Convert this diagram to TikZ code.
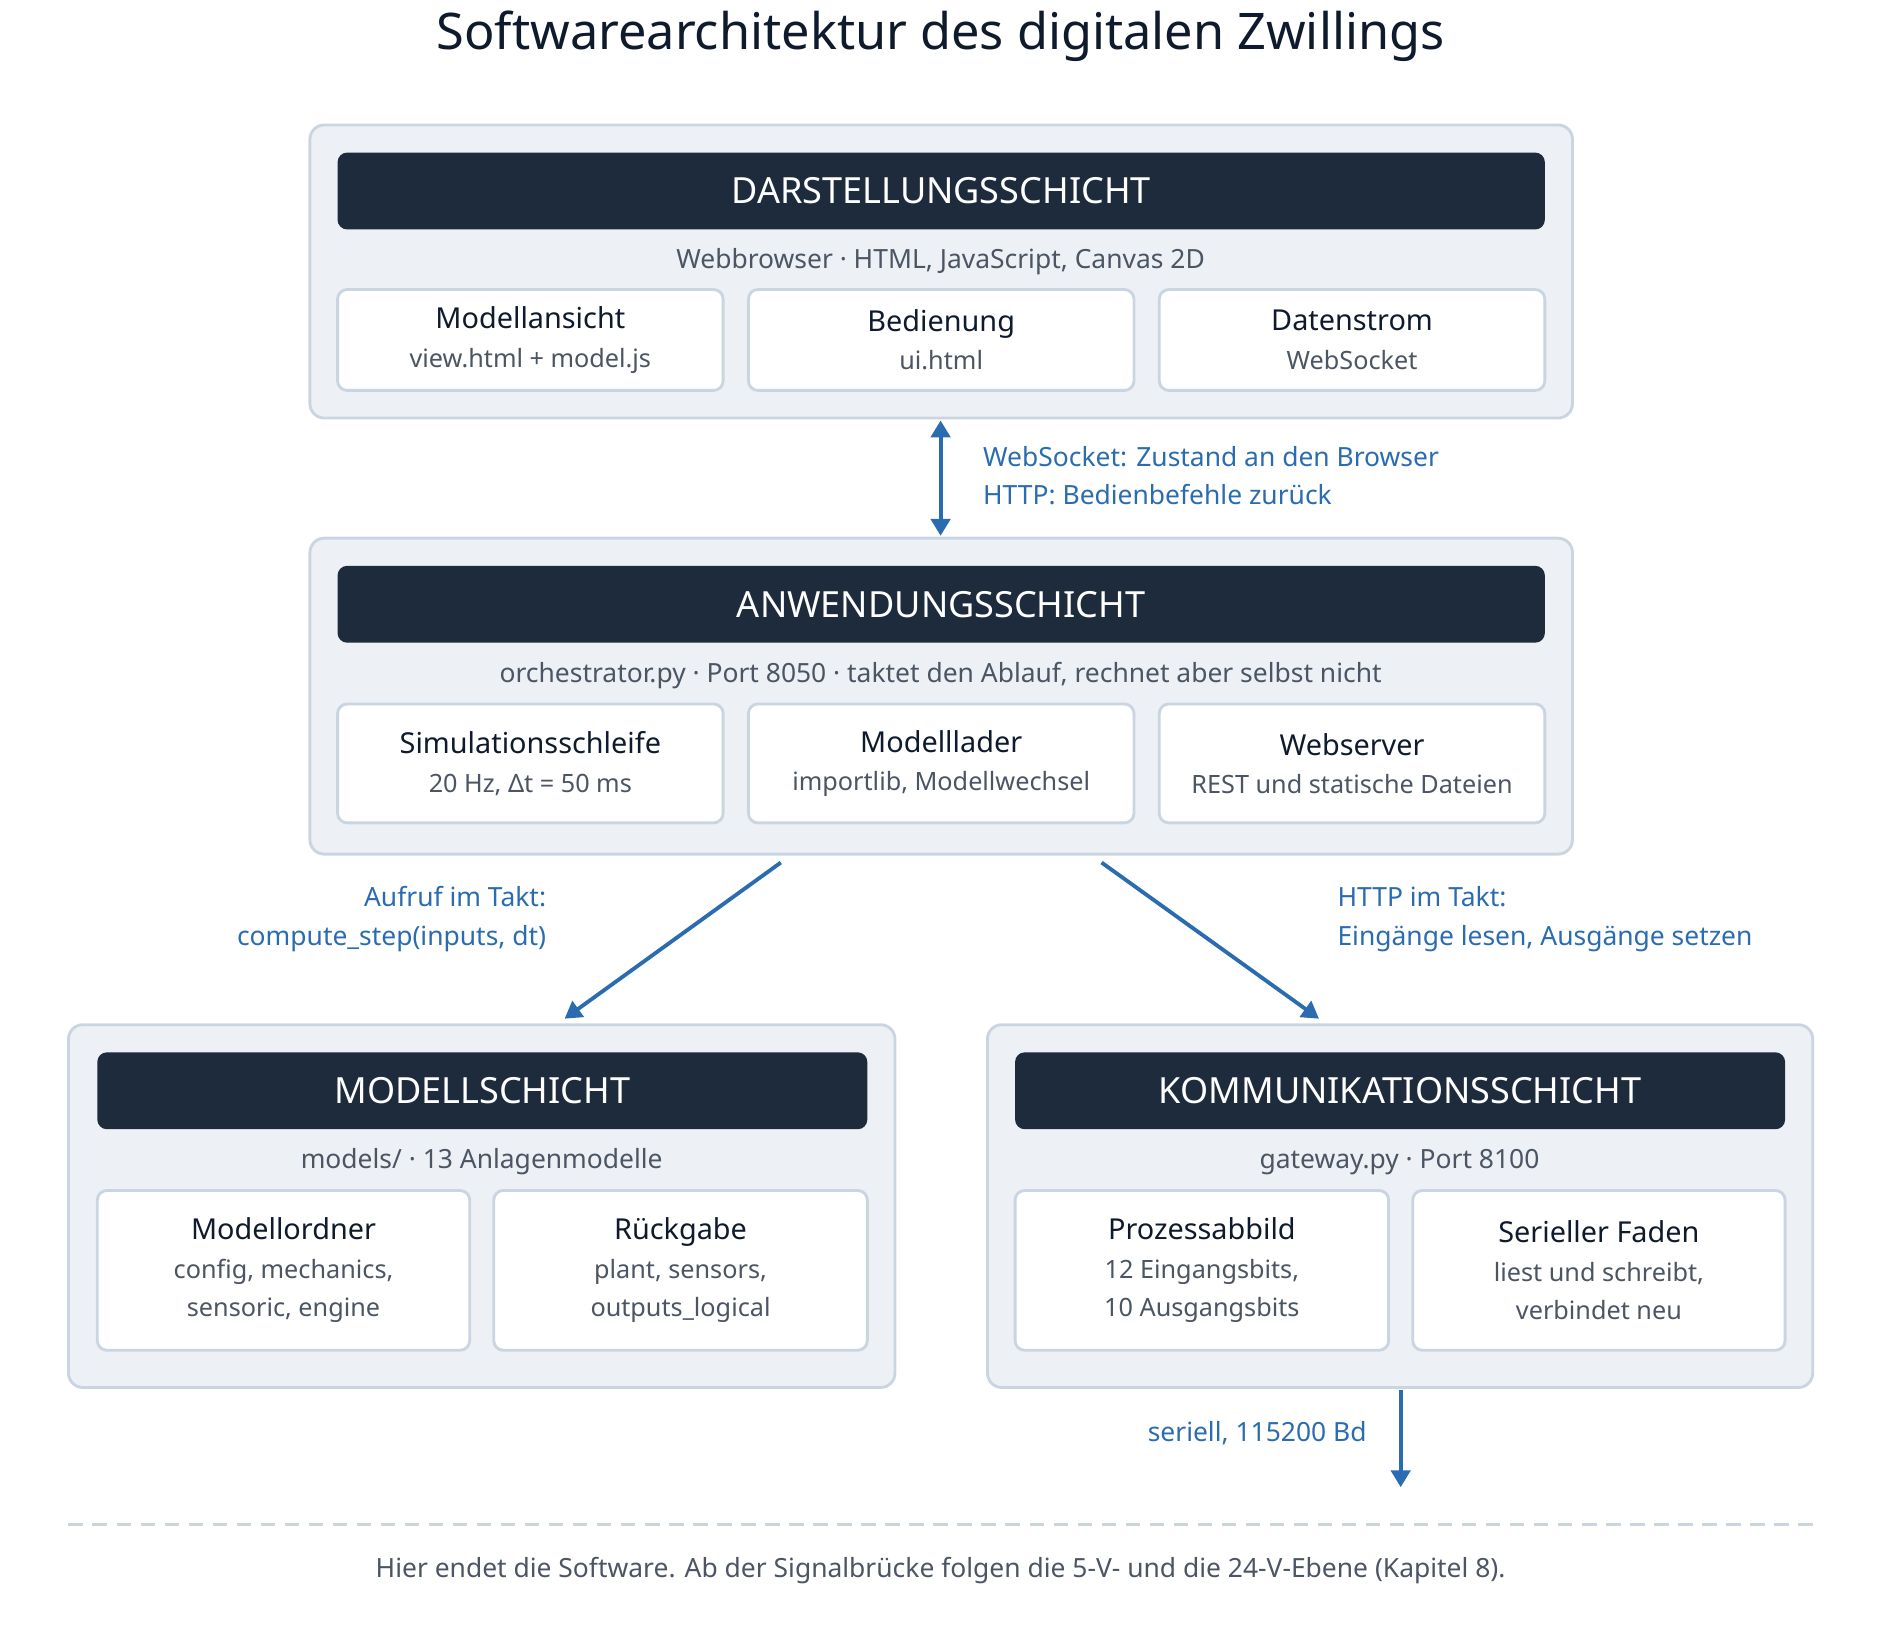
\documentclass[tikz,border=0pt]{standalone}
\usepackage{fontspec}
\setmainfont{Noto Sans}
\usetikzlibrary{arrows.meta,positioning}
\definecolor{layerbg}{HTML}{EDF1F5}
\definecolor{layerline}{HTML}{CBD5E1}
\definecolor{headbg}{HTML}{1E2B3C}
\definecolor{darktext}{HTML}{0F1B2D}
\definecolor{graytext}{HTML}{4B5563}
\definecolor{flowblue}{HTML}{2B6CB0}

\begin{document}
\begin{tikzpicture}[
		x=0.5pt,y=-0.5pt,
		layer/.style={draw=layerline,line width=1.2pt,fill=layerbg,rounded corners=6pt,inner sep=0pt},
		head/.style={fill=headbg,rounded corners=4pt,text=white,font=\fontsize{15}{18}\selectfont\bfseries,minimum height=32pt},
		sub/.style={text=graytext,font=\fontsize{11}{13}\selectfont},
		comp/.style={draw=layerline,line width=1.2pt,fill=white,rounded corners=4pt,align=center,text=graytext,font=\fontsize{10.5}{16}\selectfont},
		flow/.style={draw=flowblue,line width=1.6pt,-{Triangle[length=7pt,width=8pt]}},
		flowlabel/.style={text=flowblue,font=\fontsize{11}{16}\selectfont,inner sep=0pt}
		]
		\useasboundingbox (0,0) rectangle (1565,1367);
		\newcommand{\layerbox}[5]{% name, x1, y1, x2, y2
			\path[layer] (#2,#3) rectangle (#4,#5);
			\coordinate (#1) at ({(#2+#4)/2},#3);}
		\newcommand{\comp}[7]{% name, x1, y1, x2, y2, title, text
			\node[comp,minimum width={(#4-#2)*0.5pt},minimum height={(#5-#3)*0.5pt}] (#1) at ({(#2+#4)/2},{(#3+#5)/2})
			{{\fontsize{12}{16}\selectfont\bfseries\color{darktext}#6}\\#7};}
		
		\node[font=\fontsize{21}{25}\selectfont\bfseries,text=darktext] (title) at (783,30) {Softwarearchitektur des digitalen Zwillings};
		
		% Darstellungsschicht
		\layerbox{l1}{258}{104}{1309}{348}
		\node[head,minimum width=502.5pt] (h1) at (783.5,159) {DARSTELLUNGSSCHICHT};
		\node[sub] (s1) at (783,218) {Webbrowser · HTML, JavaScript, Canvas 2D};
		\comp{c11}{281}{241}{602}{325}{Modellansicht}{view.html + model.js}
		\comp{c12}{623}{241}{944}{325}{Bedienung}{ui.html}
		\comp{c13}{965}{241}{1286}{325}{Datenstrom}{WebSocket}
		
		% Anwendungsschicht
		\layerbox{l2}{258}{448}{1309}{711}
		\node[head,minimum width=502.5pt] (h2) at (783.5,503) {ANWENDUNGSSCHICHT};
		\node[sub] (s2) at (783,562) {orchestrator.py · Port 8050 · taktet den Ablauf, rechnet aber selbst nicht};
		\comp{c21}{281}{586}{602}{685}{Simulationsschleife}{20 Hz, Δt = 50 ms}
		\comp{c22}{623}{586}{944}{685}{Modelllader}{importlib, Modellwechsel}
		\comp{c23}{965}{586}{1286}{685}{Webserver}{REST und statische Dateien}
		
		% Modellschicht
		\layerbox{l3}{57}{853}{745}{1155}
		\node[head,minimum width=320.5pt] (h3) at (401.5,908) {MODELLSCHICHT};
		\node[sub] (s3) at (401,967) {models/ · 13 Anlagenmodelle};
		\comp{c31}{81}{991}{391}{1124}{Modellordner}{config, mechanics,\\sensoric, engine}
		\comp{c32}{411}{991}{722}{1124}{Rückgabe}{plant, sensors,\\outputs\_logical}
		
		% Kommunikationsschicht
		\layerbox{l4}{822}{853}{1509}{1155}
		\node[head,minimum width=320.5pt] (h4) at (1165.5,908) {KOMMUNIKATIONSSCHICHT};
		\node[sub] (s4) at (1165,967) {gateway.py · Port 8100};
		\comp{c41}{845}{991}{1156}{1124}{Prozessabbild}{12 Eingangsbits,\\10 Ausgangsbits}
		\comp{c42}{1176}{991}{1486}{1124}{Serieller Faden}{liest und schreibt,\\verbindet neu}
		
		% Verbindungen
		\coordinate (a1) at (783,350);
		\coordinate (a2) at (783,446);
		\draw[flow,{Triangle[length=7pt,width=8pt]}-{Triangle[length=7pt,width=8pt]}] (a1) -- (a2);
		\node[flowlabel,anchor=west,align=left] (t1) at (818,396) {WebSocket: Zustand an den Browser\\HTTP: Bedienbefehle zurück};
		
		\coordinate (b1) at (650,718);
		\coordinate (b2) at (470,848);
		\draw[flow] (b1) -- (b2);
		\node[flowlabel,anchor=east,align=right] (t2) at (455,765) {Aufruf im Takt:\\compute\_step(inputs, dt)};
		
		\coordinate (d1) at (917,718);
		\coordinate (d2) at (1098,848);
		\draw[flow] (d1) -- (d2);
		\node[flowlabel,anchor=west,align=left] (t3) at (1113,765) {HTTP im Takt:\\Eingänge lesen, Ausgänge setzen};
		
		\coordinate (e1) at (1166,1157);
		\coordinate (e2) at (1166,1238);
		\draw[flow] (e1) -- (e2);
		\node[flowlabel,anchor=east] (t4) at (1138,1193) {seriell, 115200 Bd};
		
		\coordinate (f1) at (57,1269);
		\coordinate (f2) at (1509,1269);
		\draw[layerline,line width=1.2pt,dash pattern=on 6pt off 4pt] (f1) -- (f2);
		\node[sub] (foot) at (783,1307) {Hier endet die Software. Ab der Signalbrücke folgen die 5-V- und die 24-V-Ebene (Kapitel 8).};
		\end{tikzpicture}
\end{document}
